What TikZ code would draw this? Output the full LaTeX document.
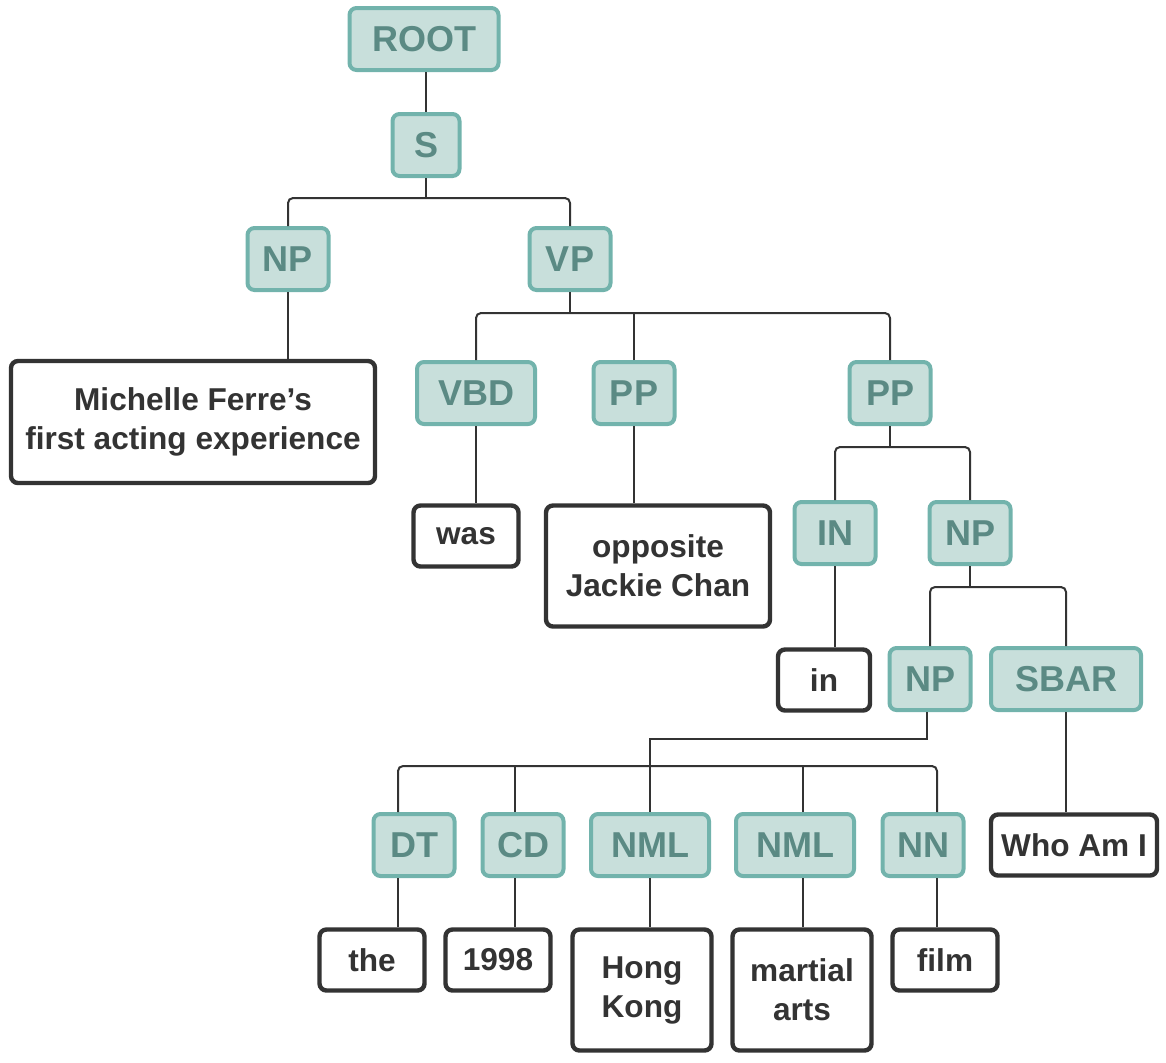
\documentclass[tikz,border=0pt]{standalone}
\usepackage{fontspec}
\setmainfont{Liberation Sans}
\usepackage{tikz}

\definecolor{tagfill}{HTML}{C8DFDB}
\definecolor{tagline}{HTML}{72B3AC}
\definecolor{tagtext}{HTML}{5B8A84}
\definecolor{ink}{HTML}{333333}

\tikzset{
    tag/.style={draw=tagline, fill=tagfill, text=tagtext, line width=2pt, rounded corners=3.5pt,
        minimum height=31pt, minimum width=40.5pt, inner sep=4pt, font=\bfseries\fontsize{18}{20}\selectfont},
    word/.style={draw=ink, fill=white, text=ink, line width=2.2pt, rounded corners=3.5pt,
        minimum height=30.5pt, minimum width=52.5pt, inner sep=4pt, align=center, font=\bfseries\fontsize{15.8}{19.5}\selectfont},
    edge/.style={draw=ink, line width=1pt},
    bar/.style={edge, rounded corners=2.5pt},
}

\begin{document}
\begin{tikzpicture}[x=0.5pt, y=-0.5pt]
        \useasboundingbox (0,0) rectangle (1166,1062);
        \node[tag, minimum width=74.5pt] (root) at (424,39) {ROOT};
        \node[tag, minimum width=33.5pt] (s) at (426,145) {S};
        \node[tag] (np1) at (288,259) {NP};
        \node[tag] (vp) at (570,259) {VP};
        \node[tag, minimum width=59pt] (vbd) at (476,393) {VBD};
        \node[tag] (pp1) at (634,393) {PP};
        \node[tag] (pp2) at (890,393) {PP};
        \node[tag] (in) at (835,533) {IN};
        \node[tag] (np2) at (970,533) {NP};
        \node[tag] (np3) at (930,679) {NP};
        \node[tag, minimum width=75pt] (sbar) at (1066,679) {SBAR};
        \node[tag] (dt) at (414,845) {DT};
        \node[tag] (cd) at (523,845) {CD};
        \node[tag, minimum width=59pt] (nml1) at (650,845) {NML};
        \node[tag, minimum width=59pt] (nml2) at (795,845) {NML};
        \node[tag] (nn) at (923,845) {NN};

        \node[word, minimum width=182pt, minimum height=61pt] (michelle) at (193,422) {Michelle Ferre’s\\first acting experience};
        \node[word] (was) at (466,536) {was};
        \node[word, minimum width=112pt, minimum height=60.5pt] (opposite) at (658,566) {opposite\\Jackie Chan};
        \node[word, minimum width=46pt] (win) at (824,680) {in};
        \node[word, minimum width=83pt] (who) at (1074,845) {Who Am I};
        \node[word] (the) at (372,960) {the};
        \node[word] (year) at (498,960) {1998};
        \node[word, minimum width=69.5pt, minimum height=60.5pt] (hongkong) at (642,990) {Hong\\Kong};
        \node[word, minimum width=69.5pt, minimum height=60.5pt] (martial) at (802,990) {martial\\arts};
        \node[word] (film) at (945,960) {film};

        \coordinate (jS) at (427,198);
        \coordinate (jVP) at (571,313);
        \coordinate (jPP) at (891,447);
        \coordinate (jNP) at (969,587);
        \coordinate (jNP3) at (927,739);
        \coordinate (jLow) at (651,766);
        \coordinate (kDT) at (398,0);
        \coordinate (kCD) at (515,0);
        \coordinate (kNML) at (803,0);
        \coordinate (kNN) at (937,0);

        \draw[edge] (root.south -| s.north) -- (s.north);
        \draw[edge] (s.south) -- (s.south |- jS);
        \draw[bar] (np1.north) |- (jS) -| (vp.north);
        \draw[edge] (np1.south) -- (michelle.north -| np1.south);
        \draw[edge] (vp.south) -- (vp.south |- jVP);
        \draw[bar] (vbd.north) |- (jVP) -| (pp2.north);
        \draw[edge] (pp1.north) -- (pp1.north |- jVP);
        \draw[edge] (vbd.south) -- (was.north -| vbd.south);
        \draw[edge] (pp1.south) -- (opposite.north -| pp1.south);
        \draw[edge] (pp2.south) -- (pp2.south |- jPP);
        \draw[bar] (in.north) |- (jPP) -| (np2.north);
        \draw[edge] (in.south) -- (win.north -| in.south);
        \draw[edge] (np2.south) -- (np2.south |- jNP);
        \draw[bar] (np3.north) |- (jNP) -| (sbar.north);
        \draw[edge] (sbar.south) -- (who.north -| sbar.south);
        \draw[edge] (np3.south -| jNP3) -- (jNP3) -| (nml1.north);
        \draw[bar] (dt.north -| kDT) |- (jLow) -| (nn.north -| kNN);
        \draw[edge] (cd.north -| kCD) -- (jLow -| kCD);
        \draw[edge] (nml2.north -| kNML) -- (jLow -| kNML);
        \draw[edge] (dt.south -| kDT) -- (the.north -| kDT);
        \draw[edge] (cd.south -| kCD) -- (year.north -| kCD);
        \draw[edge] (nml1.south) -- (hongkong.north -| nml1.south);
        \draw[edge] (nml2.south -| kNML) -- (martial.north -| kNML);
        \draw[edge] (nn.south -| kNN) -- (film.north -| kNN);
    \end{tikzpicture}
\end{document}
